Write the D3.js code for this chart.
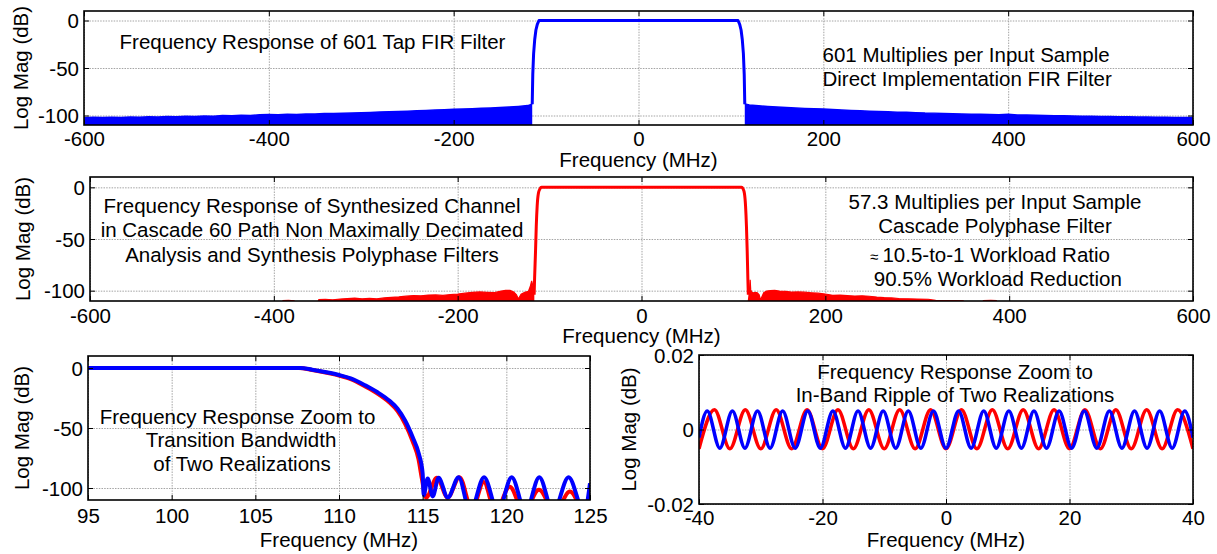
<!DOCTYPE html>
<html><head><meta charset="utf-8">
<script src="https://cdn.jsdelivr.net/npm/d3@7"></script>
<style>
body{margin:0;background:#fff;}
svg text{font-family:"Liberation Sans",Arial,sans-serif;font-size:20.5px;fill:#000;}
</style></head><body>
<svg id="chart" width="1217" height="554"></svg>
<script>
// ---------- tick values ----------
const wideXTicks = [-600,-400,-200,0,200,400,600];
const dbTicks = [0,-50,-100];
const zoomXTicks = [95,100,105,110,115,120,125];
const rippleXTicks = [-40,-20,0,20,40];
const rippleYTicks = [0.02,0,-0.02];
const rippleYLabels = ["0.02","0","-0.02"];

// ---------- top panel: 601 tap FIR (blue) ----------
const firPass = [[-115,-88],[-114.4,-57],[-113.5,-35],[-112.3,-20],[-111,-10],[-109.5,-4],[-107.7,0],
  [107.7,0],[109.5,-4],[111,-10],[112.3,-20],[113.5,-35],[114.4,-57],[115,-88]];
const firFloorL = [[-600,-102.4],[-590,-101.9],[-580,-102.2],[-570,-101.8],[-560,-102.1],[-550,-101.6],[-540,-101.9],
  [-530,-101.4],[-520,-101.6],[-510,-101.1],[-500,-101.3],[-490,-100.8],[-480,-101.0],[-470,-100.5],[-460,-100.7],
  [-450,-100.1],[-440,-100.3],[-430,-99.8],[-420,-99.9],[-410,-99.3],[-400,-99.0],[-390,-99.2],[-380,-98.8],
  [-370,-98.9],[-360,-98.4],[-350,-98.5],[-340,-98.0],[-330,-97.9],[-320,-97.6],[-310,-97.3],[-300,-97.0],
  [-290,-96.8],[-280,-96.4],[-270,-96.1],[-260,-95.8],[-250,-95.5],[-240,-95.1],[-230,-94.8],[-220,-94.3],
  [-210,-94.0],[-200,-93.5],[-190,-93.2],[-180,-92.8],[-170,-92.4],[-160,-92.0],[-150,-91.5],[-140,-91.0],
  [-130,-90.4],[-120,-89.6],[-115,-88]];
const firFloorR = [[115,-88],[120,-89],[130,-89.8],[140,-90.5],[150,-91],[160,-91.6],[170,-92],[180,-92.5],
  [190,-92.9],[200,-93.2],[210,-93.8],[220,-94.2],[230,-94.7],[240,-95.0],[250,-95.4],[260,-95.8],[270,-96.1],
  [280,-96.5],[290,-96.7],[300,-97.0],[310,-97.4],[320,-97.5],[330,-97.9],[340,-98.1],[350,-98.3],[360,-98.6],
  [370,-98.7],[380,-99.0],[390,-99.1],[400,-98.8],[410,-99.4],[420,-99.5],[430,-99.8],[440,-99.9],[450,-100.2],
  [460,-100.3],[470,-100.5],[480,-100.7],[490,-100.8],[500,-101.0],[510,-101.1],[520,-101.3],[530,-101.4],
  [540,-101.5],[550,-101.7],[560,-101.8],[570,-101.9],[580,-102.0],[590,-102.1],[600,-102.2]];

// ---------- middle panel: cascade polyphase (red) ----------
const ddcPass = [[-116.8,-104],[-116.3,-88],[-115.3,-62],[-114.5,-38],[-113.5,-18],[-112.2,-6],[-110.5,-1.5],[-108.8,0],
  [108.8,0],[110.5,-1.5],[112,-6],[113.2,-18],[114.2,-38],[115,-62],[115.7,-88],[116.2,-104]];
const ddcFloorL = [[-600,-116],[-392,-116],[-390,-109.6],[-384,-109.3],[-378,-109.8],[-375,-113],[-353,-113],
  [-351,-108.6],[-344,-108.4],[-336,-108.8],[-328,-108.1],[-320,-107.6],[-312,-107.2],[-304,-107.8],[-296,-107.4],
  [-288,-107.9],[-280,-107.0],[-272,-106.4],[-264,-106.1],[-256,-105.3],[-248,-104.7],[-240,-104.9],[-232,-104.3],
  [-224,-104.1],[-216,-104.6],[-208,-103.8],[-200,-103.2],[-192,-102.4],[-184,-101.6],[-176,-101.2],[-168,-101.6],
  [-160,-101.9],[-154,-100.6],[-148,-99.6],[-143,-99.8],[-139,-101.2],[-136,-104],[-134,-108],[-131,-103.5],
  [-127,-101.5],[-123,-100.6],[-121,-96],[-119.5,-90.5],[-118,-96],[-116.6,-100]];
const ddcFloorR = [[116.2,-110],[116.8,-106],[117.6,-98],[118.2,-89.5],[118.8,-99],[120,-101.5],[122,-102],
  [124,-101.6],[126,-102],[128,-104],[129.5,-109],[131,-106],[133,-102],[136,-100.4],[140,-100],[145,-99.8],
  [150,-100.3],[157,-100.6],[163,-101.4],[170,-101.2],[177,-101.5],[185,-102],[192,-102.4],[200,-103.2],
  [208,-104.5],[216,-104.3],[224,-104.8],[232,-105.2],[240,-104.9],[248,-105.4],[256,-106.2],[264,-106.7],
  [272,-107.0],[280,-107.6],[290,-107.8],[300,-108.1],[312,-108.3],[320,-109.4],[330,-109.6],[340,-109.5],
  [350,-109.8],[352,-113],[370,-113],[372,-109.5],[380,-109.3],[386,-109.6],[388,-116],[600,-116]];

// ---------- bottom-left: transition band zoom ----------
const blueZoom = [[95,0],[107.7,0],[108.4,-1.4],[109.5,-4.2],[110,-5.8],[110.7,-8.6],[111.6,-14.7],[112.3,-20.2],
  [113,-27.1],[113.5,-34],[113.95,-43.8],[114.4,-57.6],[114.77,-71.5],[115,-88],[115.06,-106],[115.3,-92],
  [115.6,-107],[115.95,-91.5],[116.5,-108],[117.15,-91],[117.84,-120],[118.67,-91],[119.5,-120],[120.32,-91],
  [121.15,-120],[121.97,-91],[122.8,-120],[123.72,-91],[124.65,-120],[125,-96]];
const redZoom = [[95,0],[107.6,0],[108.4,-1.6],[109.5,-4.6],[110,-6.3],[110.7,-9.3],[111.6,-15.6],[112.3,-21.3],
  [113,-28.6],[113.5,-36],[113.95,-46.5],[114.4,-61],[114.75,-76],[114.95,-92],[115.2,-108],[115.85,-91.5],
  [116.5,-108],[117.2,-91],[117.95,-118],[118.65,-95],[119.35,-120],[120.2,-99],[121.05,-120],[121.95,-101.5],
  [122.9,-120],[123.8,-103],[124.7,-120],[125,-107]];

// ---------- bottom-right: in-band ripple (extrema) ----------
const blueRipple = [[-40,-0.0022],[-38.665,0.005],[-36.63,-0.005],[-34.595,0.005],[-32.56,-0.005],[-30.525,0.005],
  [-28.49,-0.005],[-26.455,0.005],[-24.42,-0.005],[-22.385,0.005],[-20.35,-0.005],[-18.315,0.005],[-16.28,-0.005],
  [-14.245,0.005],[-12.21,-0.005],[-10.175,0.005],[-8.14,-0.005],[-6.105,0.005],[-4.07,-0.005],[-2.035,0.005],
  [0,-0.005],[2.035,0.005],[4.07,-0.005],[6.105,0.005],[8.14,-0.005],[10.175,0.005],[12.21,-0.005],[14.245,0.005],
  [16.28,-0.005],[18.315,0.005],[20.35,-0.005],[22.385,0.005],[24.42,-0.005],[26.455,0.005],[28.49,-0.005],
  [30.525,0.005],[32.56,-0.005],[34.595,0.005],[36.63,-0.005],[38.665,0.005],[40,-0.0022]];
const redRipple = [[-40,-0.0052],[-37.5,0.0053],[-35,-0.0052],[-32.5,0.0053],[-30,-0.0052],[-27.5,0.0053],
  [-25,-0.0052],[-22.5,0.0053],[-20,-0.0052],[-17.5,0.0053],[-15,-0.0052],[-12.5,0.0053],[-10,-0.0052],
  [-7.5,0.0053],[-5,-0.0052],[-2.5,0.0053],[0,-0.0052],[2.5,0.0053],[5,-0.0052],[7.5,0.0053],[10,-0.0052],
  [12.5,0.0053],[15,-0.0052],[17.5,0.0053],[20,-0.0052],[22.5,0.0053],[25,-0.0052],[27.5,0.0053],[30,-0.0052],
  [32.5,0.0053],[35,-0.0052],[37.5,0.0053],[40,-0.0052]];

// ---------- annotation text ----------
const topNoteLeft = ["Frequency Response of 601 Tap FIR Filter"];
const topNoteRight = ["601 Multiplies per Input Sample","Direct Implementation FIR Filter"];
const midNoteLeft = ["Frequency Response of Synthesized Channel","in Cascade 60 Path Non Maximally Decimated","Analysis and Synthesis Polyphase Filters"];
const midNoteRight = ["57.3 Multiplies per Input Sample","Cascade Polyphase Filter","10.5-to-1 Workload Ratio"," 90.5% Workload Reduction"];
const blNote = ["Frequency Response Zoom to","Transition Bandwidth","of Two Realizations"];
const brNote = ["Frequency Response Zoom to","In-Band Ripple of Two Realizations"];
const axisXTitle = "Frequency (MHz)";
const axisYTitle = "Log Mag (dB)";

const BLUE = "#0000ff", RED = "#ff0000";
const svg = d3.select("#chart");
const gridLayer = svg.append("g");
const dataLayer = svg.append("g");
const frameLayer = svg.append("g");
const textLayer = svg.append("g");

function panel(c){
  const x = d3.scaleLinear().domain(c.xd).range([c.l, c.r]);
  const y = d3.scaleLinear().domain(c.yd).range([c.b, c.t]);
  const h = c.b - c.t, w = c.r - c.l;
  const gx = gridLayer.append("g").attr("transform",`translate(0,${c.b})`)
    .call(d3.axisBottom(x).tickValues(c.xt).tickSize(-h).tickFormat(""));
  const gy = gridLayer.append("g").attr("transform",`translate(${c.l},0)`)
    .call(d3.axisLeft(y).tickValues(c.yt).tickSize(-w).tickFormat(""));
  [gx,gy].forEach(g=>{ g.select(".domain").remove();
    g.selectAll("line").attr("stroke","#9a9a9a").attr("stroke-width",0.9).attr("stroke-dasharray","1.5,1.2"); });
  const id = "clip_"+c.name;
  svg.append("clipPath").attr("id",id).append("rect").attr("x",c.l).attr("y",c.t).attr("width",w).attr("height",h);
  const data = dataLayer.append("g").attr("clip-path",`url(#${id})`);
  const fmt = c.yLabels ? (d,i)=>c.yLabels[i] : (d=>String(d));
  const ax = frameLayer.append("g").attr("transform",`translate(0,${c.b})`)
    .call(d3.axisBottom(x).tickValues(c.xt).tickSizeInner(-5).tickSizeOuter(0).tickPadding(c.xpad).tickFormat(d=>String(d)));
  const axT = frameLayer.append("g").attr("transform",`translate(0,${c.t})`)
    .call(d3.axisTop(x).tickValues(c.xt).tickSizeInner(-5).tickSizeOuter(0).tickFormat(""));
  const ay = frameLayer.append("g").attr("transform",`translate(${c.l},0)`)
    .call(d3.axisLeft(y).tickValues(c.yt).tickSizeInner(-5).tickSizeOuter(0).tickPadding(5).tickFormat(fmt));
  const ayR = frameLayer.append("g").attr("transform",`translate(${c.r},0)`)
    .call(d3.axisRight(y).tickValues(c.yt).tickSizeInner(-5).tickSizeOuter(0).tickFormat(""));
  [ax,axT,ay,ayR].forEach(g=>{
    g.attr("font-size",null).attr("font-family",null);
    g.select(".domain").remove();
    g.selectAll("line").attr("stroke","#000").attr("stroke-width",1);
    g.selectAll("text").attr("fill","#000");
  });
  ay.selectAll("text").attr("dy","0.35em");
  frameLayer.append("rect").attr("x",c.l).attr("y",c.t).attr("width",w).attr("height",h)
    .attr("fill","none").attr("stroke","#000").attr("stroke-width",1.6);
  textLayer.append("text").attr("x",(c.l+c.r)/2).attr("y",c.xTitleY).attr("text-anchor","middle").text(axisXTitle);
  textLayer.append("text").attr("transform",`translate(${c.yTitleX},${(c.t+c.b)/2}) rotate(-90)`)
    .attr("text-anchor","middle").text(axisYTitle);
  return {x,y,data};
}

function notes(lines, xs, ys, anchor){
  lines.forEach((s,i)=>{
    textLayer.append("text").attr("x",Array.isArray(xs)?xs[i]:xs).attr("y",ys[i])
      .attr("text-anchor",anchor).text(s);
  });
}

// ---------- TOP ----------
const P1 = panel({name:"p1", l:84, r:1193, t:11, b:125, xd:[-600,600], yd:[-110,10],
  xt:wideXTicks, yt:dbTicks, xpad:6.5, xTitleY:166.5, yTitleX:28});
{
  const area = d3.area().x(d=>P1.x(d[0])).y0(P1.y(-120)).y1(d=>P1.y(d[1]));
  const line = d3.line().x(d=>P1.x(d[0])).y(d=>P1.y(d[1]));
  [firFloorL, firFloorR].forEach(arr=>{
    P1.data.append("path").attr("d",area(arr)).attr("fill",BLUE);
    P1.data.append("path").attr("d",line(arr)).attr("fill","none").attr("stroke",BLUE).attr("stroke-width",1.5);
  });
  P1.data.append("path").attr("d",line(firPass)).attr("fill","none").attr("stroke",BLUE)
    .attr("stroke-width",3).attr("stroke-linejoin","round");
}
notes(topNoteLeft, 312.5, [49], "middle");
notes(topNoteRight, 822.5, [62, 86], "start");

// ---------- MIDDLE ----------
const P2 = panel({name:"p2", l:90, r:1193, t:177, b:301, xd:[-600,600], yd:[-110,10],
  xt:wideXTicks, yt:dbTicks, xpad:7.5, xTitleY:343, yTitleX:29.5});
{
  const area = d3.area().x(d=>P2.x(d[0])).y0(P2.y(-120)).y1(d=>P2.y(d[1]));
  const line = d3.line().x(d=>P2.x(d[0])).y(d=>P2.y(d[1]));
  [ddcFloorL, ddcFloorR].forEach(arr=>{
    P2.data.append("path").attr("d",area(arr)).attr("fill",RED);
    P2.data.append("path").attr("d",line(arr)).attr("fill","none").attr("stroke",RED).attr("stroke-width",1.2);
  });
  P2.data.append("path").attr("d",d3.line().x(d=>P2.x(d[0])).y(d=>P2.y(d[1])).curve(d3.curveMonotoneX)(ddcPass))
    .attr("fill","none").attr("stroke",RED).attr("stroke-width",3).attr("stroke-linejoin","round");
}
notes(midNoteLeft, 312, [212.5, 237, 261.5], "middle");
notes(midNoteRight.slice(0,2), 995, [208.5, 232.5], "middle");
{
  const t = textLayer.append("text").attr("x",990).attr("y",261.5).attr("text-anchor","middle");
  t.append("tspan").attr("font-size","15px").text("\u2248 ");
  t.append("tspan").text(midNoteRight[2]);
}
textLayer.append("text").attr("x",995).attr("y",285.5).attr("text-anchor","middle")
  .attr("xml:space","preserve").text(midNoteRight[3]);

// ---------- BOTTOM LEFT ----------
const P3 = panel({name:"p3", l:88, r:590, t:356, b:500, xd:[95,125], yd:[-110,10],
  xt:zoomXTicks, yt:dbTicks, xpad:8.5, xTitleY:547, yTitleX:28.5});
{
  const line = d3.line().x(d=>P3.x(d[0])).y(d=>P3.y(d[1])).curve(d3.curveMonotoneX);
  P3.data.append("path").attr("d",line(redZoom)).attr("fill","none").attr("stroke",RED).attr("stroke-width",4).attr("stroke-linejoin","round");
  P3.data.append("path").attr("d",line(blueZoom)).attr("fill","none").attr("stroke",BLUE).attr("stroke-width",4).attr("stroke-linejoin","round");
}
notes(blNote, [237.5, 241, 242], [423.5, 447, 470.5], "middle");

// ---------- BOTTOM RIGHT ----------
const P4 = panel({name:"p4", l:699, r:1193, t:355, b:504, xd:[-40,40], yd:[-0.02,0.02],
  xt:rippleXTicks, yt:rippleYTicks, yLabels:rippleYLabels, xpad:6.5, xTitleY:547, yTitleX:636});
{
  const line = d3.line().x(d=>P4.x(d[0])).y(d=>P4.y(d[1])).curve(d3.curveMonotoneX);
  P4.data.append("path").attr("d",line(redRipple)).attr("fill","none").attr("stroke",RED).attr("stroke-width",3.5);
  P4.data.append("path").attr("d",line(blueRipple)).attr("fill","none").attr("stroke",BLUE).attr("stroke-width",3.5);
}
notes(brNote, 955, [378.5, 402], "middle");
</script>
</body></html>
